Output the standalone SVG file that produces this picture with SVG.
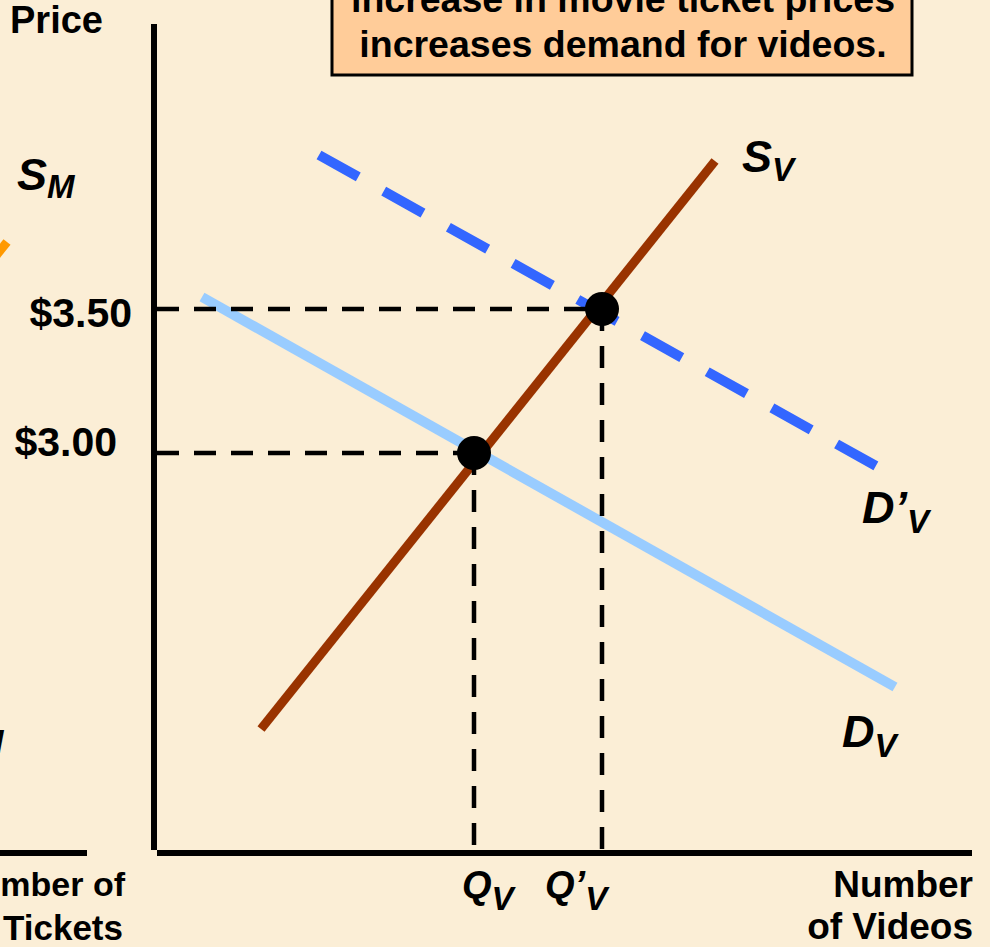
<svg xmlns="http://www.w3.org/2000/svg" width="990" height="947" viewBox="0 0 990 947">
<style>
text{font-family:"Liberation Sans",Arial,sans-serif;font-weight:bold;fill:#000}
.lbl{font-size:37px}
.val{font-size:41px}
.crv{font-size:45px;font-style:italic}
.q{font-size:38px;font-style:italic}
.sub{font-size:33px}
.ax{stroke:#000;stroke-width:6;fill:none}
.guide{stroke:#000;stroke-width:4.5;stroke-dasharray:22 15;fill:none}
.dot{fill:#000}
</style>
<rect id="background" width="990" height="947" fill="#FBEED6"/>

<g id="left-panel-fragment">
  <line x1="-40" y1="300" x2="7" y2="242" stroke="#FF9900" stroke-width="9"/>
  <line class="ax" x1="0" y1="853" x2="87" y2="853"/>
  <text class="crv" x="17" y="190">S<tspan class="sub" dy="8">M</tspan></text>
  <text class="crv sub" x="-24" y="753">M</text>
  <text class="lbl" x="125" y="896" text-anchor="end" style="font-size:34px">mber of</text>
  <text class="lbl" x="123" y="940" text-anchor="end" style="font-size:35px">Tickets</text>
</g>

<g id="caption">
  <rect x="332" y="-20" width="580" height="95" fill="#FFCC99" stroke="#000" stroke-width="3"/>
  <text class="lbl" x="623" y="12" text-anchor="middle" style="font-size:37.5px">increase in movie ticket prices</text>
  <text class="lbl" x="623" y="57" text-anchor="middle" style="font-size:37.5px">increases demand for videos.</text>
</g>

<g id="axes">
  <line class="ax" x1="154" y1="24" x2="154" y2="850"/>
  <line class="ax" x1="157" y1="853" x2="972" y2="853"/>
  <text class="lbl" x="10" y="33" style="font-size:38px">Price</text>
  <text class="lbl" x="973" y="897" text-anchor="end">Number</text>
  <text class="lbl" x="973" y="939" text-anchor="end">of Videos</text>
</g>

<g id="connectors">
  <line id="DV" x1="202" y1="297" x2="895" y2="687" stroke="#99CCFF" stroke-width="10"/>
  <line id="DpV" x1="319" y1="155" x2="876" y2="466" stroke="#3366FF" stroke-width="10" stroke-dasharray="45 29.1"/>
  <line id="SV" x1="261" y1="729" x2="715" y2="161" stroke="#993300" stroke-width="9"/>
  <line class="guide" x1="157" y1="309" x2="602" y2="309"/>
  <line class="guide" x1="157" y1="453" x2="474" y2="453"/>
  <line class="guide" x1="474" y1="453" x2="474" y2="850"/>
  <line class="guide" x1="602" y1="309" x2="602" y2="850"/>
</g>

<g id="eq1"><circle class="dot" cx="474" cy="453" r="17"/></g>
<g id="eq2"><circle class="dot" cx="602" cy="309" r="17"/></g>

<g id="labels">
  <text class="val" x="132" y="327" text-anchor="end">$3.50</text>
  <text class="val" x="117" y="456" text-anchor="end">$3.00</text>
  <text class="crv" x="742" y="172">S<tspan class="sub" dy="9">V</tspan></text>
  <text class="crv" x="862" y="523">D’<tspan class="sub" dy="10">V</tspan></text>
  <text class="crv" x="842" y="747">D<tspan class="sub" dy="10">V</tspan></text>
  <text class="q" x="462" y="898">Q<tspan class="sub" dy="12">V</tspan></text>
  <text class="q" x="545" y="898">Q’<tspan class="sub" dy="12">V</tspan></text>
</g>
</svg>
